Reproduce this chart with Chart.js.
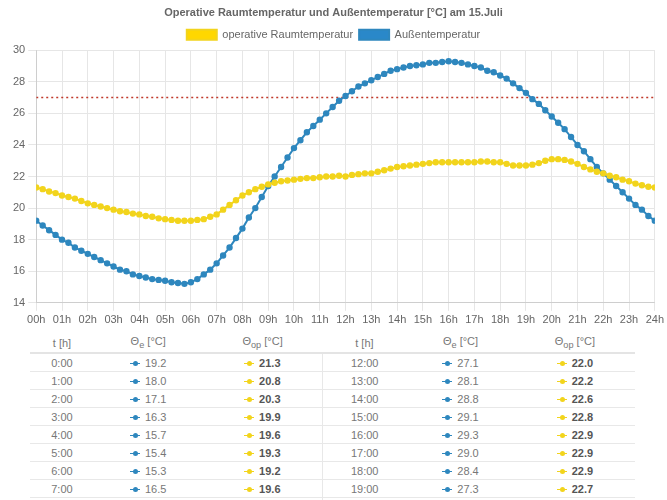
<!DOCTYPE html>
<html><head><meta charset="utf-8">
<script src="https://cdn.jsdelivr.net/npm/chart.js@4"></script>
<style>
body{margin:0;background:#fff;font-family:"Liberation Sans",Arial,sans-serif;color:#666}
#wrap{position:relative;width:667px;height:330px}
table{position:absolute;left:30px;top:334px;width:605px;border-collapse:collapse;font-size:11px;color:#777}
th{font-weight:normal;height:18px;padding:0;border-bottom:2px solid #e4e4e4;text-align:center}
td{height:17px;padding:0;border-bottom:1px solid #e8e8e8;text-align:center}
td.sep{border-right:1px solid #e8e8e8}
b{color:#555;font-weight:bold}
.m{display:inline-block;position:relative;width:10px;height:7px;margin-right:5px;vertical-align:middle}
.m:before{content:"";position:absolute;left:0;right:0;top:3px;height:1px;background:currentColor}
.m:after{content:"";position:absolute;left:3px;top:1px;width:5px;height:5px;border-radius:50%;background:currentColor}
</style></head><body>
<div id="wrap"><canvas id="c"></canvas></div>
<table id="t"></table>
<script>
const hours = Array.from({length:97},(_,i)=>i/4);
const tickLabels = ["00h","01h","02h","03h","04h","05h","06h","07h","08h","09h","10h","11h","12h","13h","14h","15h","16h","17h","18h","19h","20h","21h","22h","23h","24h"];
const outside = [19.2,18.9,18.6,18.3, 18.0,17.8,17.5,17.3, 17.1,16.9,16.7,16.5, 16.3,16.1,16.0,15.8,
 15.7,15.6,15.5,15.45, 15.4,15.3,15.25,15.2, 15.3,15.5,15.8,16.1, 16.5,17.0,17.5,18.1,
 18.7,19.4,20.0,20.7, 21.4,22.0,22.6,23.2, 23.8,24.3,24.8,25.2, 25.6,26.0,26.4,26.8,
 27.1,27.4,27.7,27.9, 28.1,28.3,28.5,28.7, 28.8,28.9,29.0,29.05, 29.1,29.2,29.2,29.25,
 29.3,29.25,29.2,29.1, 29.0,28.9,28.7,28.6, 28.4,28.2,27.9,27.6, 27.3,26.9,26.6,26.2,
 25.8,25.4,25.0,24.5, 24.0,23.6,23.1,22.6, 22.2,21.8,21.4,21.0, 20.6,20.2,19.9,19.5, 19.2];
const operative = [21.3,21.2,21.05,20.95, 20.8,20.7,20.6,20.45, 20.3,20.2,20.1,20.0, 19.9,19.8,19.75,19.65,
 19.6,19.5,19.45,19.35, 19.3,19.25,19.2,19.2, 19.2,19.25,19.3,19.45, 19.6,19.9,20.2,20.5,
 20.8,21.0,21.2,21.35, 21.5,21.6,21.7,21.75, 21.8,21.85,21.9,21.9, 21.95,22.0,22.0,22.05,
 22.0,22.1,22.15,22.2, 22.2,22.3,22.4,22.5, 22.6,22.65,22.7,22.75, 22.8,22.85,22.9,22.9,
 22.9,22.9,22.9,22.9, 22.9,22.95,22.95,22.9, 22.9,22.8,22.7,22.7, 22.7,22.75,22.85,23.0,
 23.1,23.1,23.05,22.95, 22.8,22.6,22.45,22.3, 22.2,22.05,21.95,21.8, 21.7,21.55,21.45,21.35, 21.3];
const limit = 27;
const YEL="#f2d41c", BLU="#2e87be";
const pts=a=>a.map((v,i)=>({x:hours[i],y:v}));
new Chart(document.getElementById('c'),{type:'line',
 data:{datasets:[
  {label:'operative Raumtemperatur',data:pts(operative),borderColor:YEL,backgroundColor:'#ffd700',pointBackgroundColor:YEL,pointBorderColor:YEL,pointRadius:2.2,borderWidth:2},
  {label:'Außentemperatur',data:pts(outside),borderColor:BLU,backgroundColor:'#2a88c9',pointBackgroundColor:BLU,pointBorderColor:BLU,pointRadius:2.2,borderWidth:2},
  {label:'limit',data:[{x:0,y:limit},{x:24,y:limit}],borderColor:'#c0392b',borderDash:[2,3],borderWidth:1.5,pointRadius:0}
 ]},
 options:{responsive:true,maintainAspectRatio:false,animation:false,
  layout:{padding:{left:10,right:10,top:0,bottom:0}},
  plugins:{title:{display:true,text:'Operative Raumtemperatur und Außentemperatur [°C] am 15.Juli',color:'#666',font:{size:11,weight:'bold'},padding:{top:6,bottom:4}},
   legend:{labels:{filter:i=>i.text!=='limit',boxWidth:30,boxHeight:10,padding:6,color:'#666',font:{size:11}}},tooltip:{enabled:false}},
  scales:{x:{type:'linear',min:0,max:24,ticks:{stepSize:1,autoSkip:false,maxRotation:0,color:'#666',font:{size:11},callback:v=>tickLabels[v]},grid:{color:'#e6e6e6'}},
   y:{min:14,max:30,ticks:{stepSize:2,color:'#666',font:{size:11}},grid:{color:'#e6e6e6'}}}}
});
const t=document.getElementById('t');
let h='<tr><th>t [h]</th><th>Θ<sub>e</sub> [°C]</th><th>Θ<sub>op</sub> [°C]</th><th>t [h]</th><th>Θ<sub>e</sub> [°C]</th><th>Θ<sub>op</sub> [°C]</th></tr>';
for(let r=0;r<8;r++){
 const c=(k,sep)=>`<td>${k}:00</td><td><span class="m" style="color:${BLU}"></span>${outside[k*4].toFixed(1)}</td><td${sep?' class="sep"':''}><span class="m" style="color:${YEL}"></span><b>${operative[k*4].toFixed(1)}</b></td>`;
 h+='<tr>'+c(r,true)+c(r+12,false)+'</tr>';
}
h+='<tr><td></td><td></td><td class="sep"></td><td></td><td></td><td></td></tr>';
t.innerHTML=h;
</script></body></html>
